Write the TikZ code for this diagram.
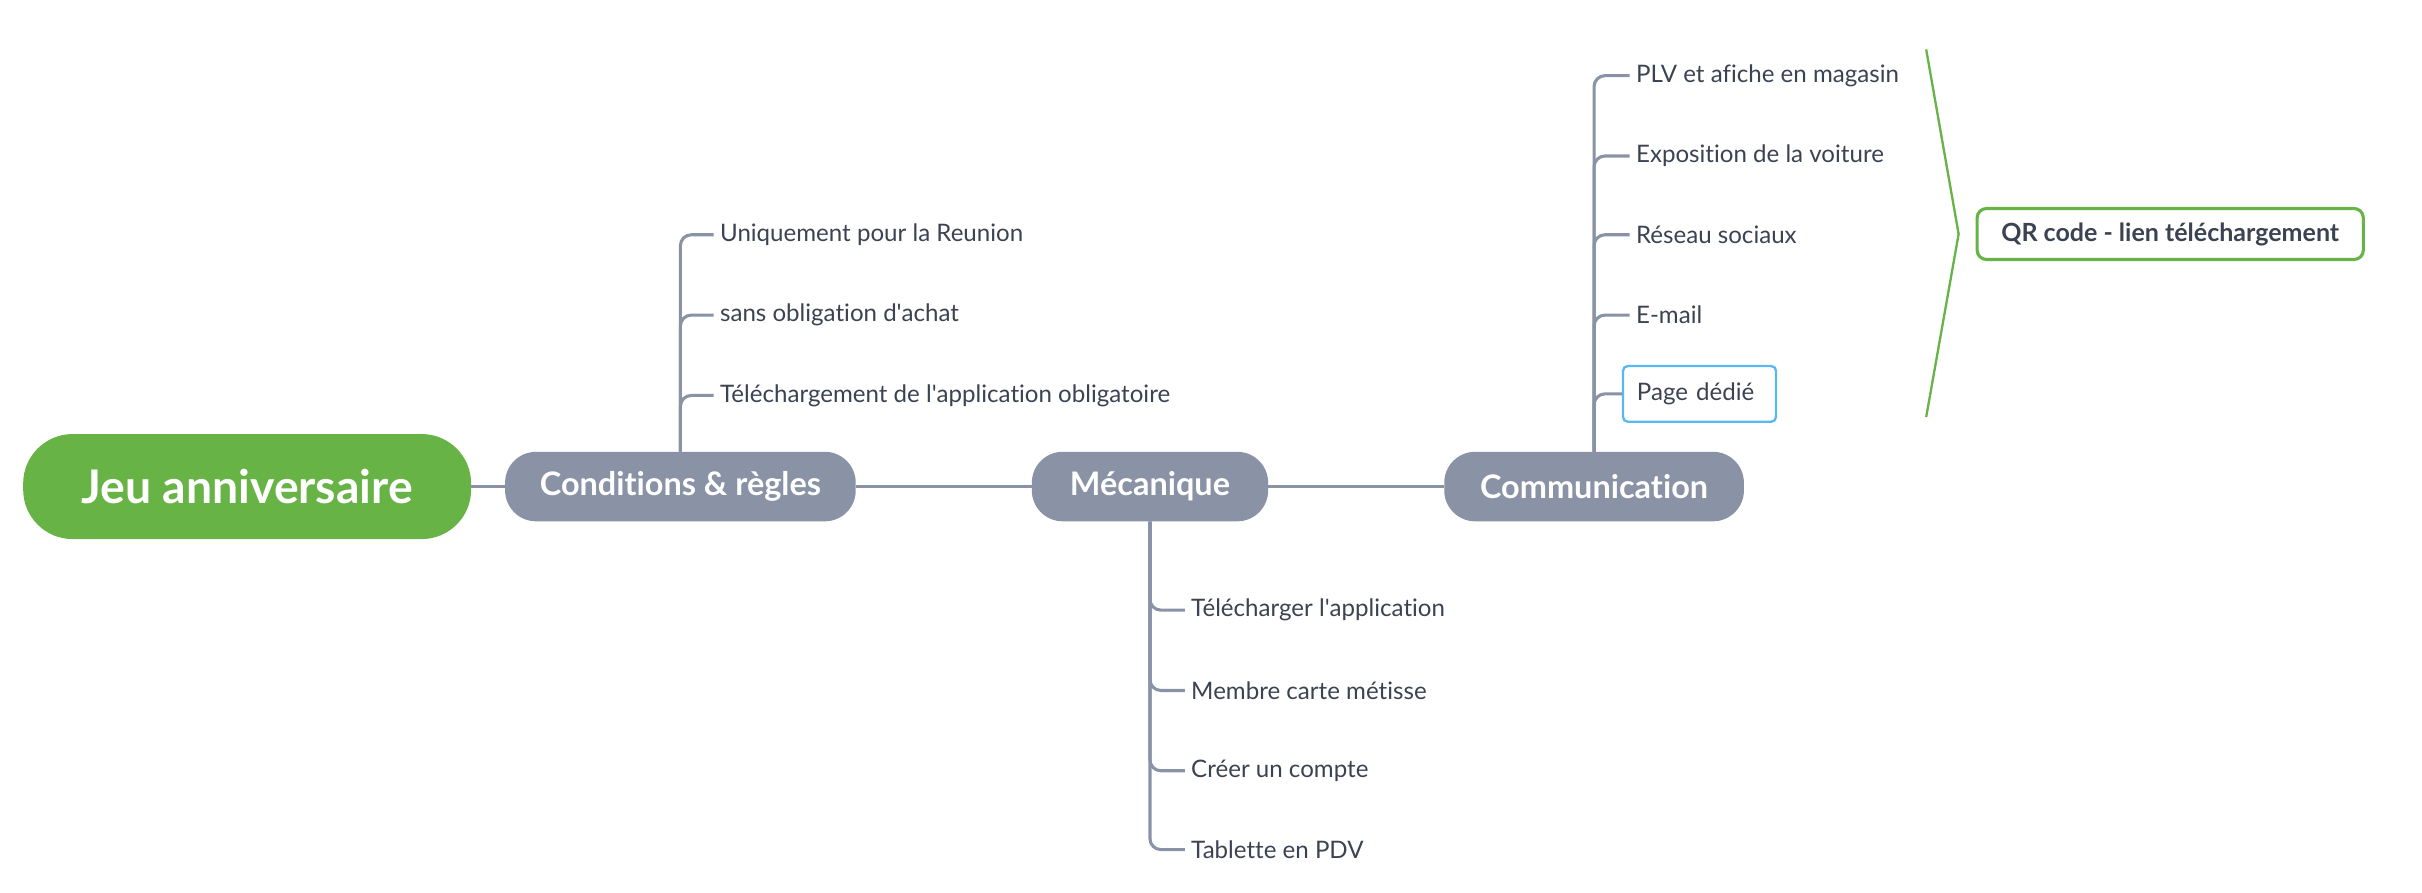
\documentclass[tikz,border=0pt]{standalone}
\usepackage{fontspec}
\setmainfont{Lato}[Ligatures={NoCommon}]
\definecolor{rootgreen}{HTML}{67B346}
\definecolor{topicgray}{HTML}{8A93A5}
\definecolor{leaftext}{HTML}{3B4252}
\definecolor{pageblue}{HTML}{5AB7F0}
\begin{document}
\begin{tikzpicture}[x=1pt,y=-1pt,
	topic/.style={fill=topicgray, text=white, font=\bfseries\fontsize{21}{24}\selectfont,
		rounded corners=20pt, minimum height=45pt, inner sep=0pt},
	leaf/.style={anchor=west, text=leaftext, font=\fontsize{15.6}{18}\selectfont, inner xsep=4pt},
	branch/.style={draw=topicgray, line width=2pt, rounded corners=7pt}]
	\useasboundingbox (0,0) rectangle (1568,577.5);

	% central topic and main topics
	\node[fill=rootgreen, text=white, font=\bfseries\fontsize{30}{34}\selectfont,
		rounded corners=32pt, minimum width=290pt, minimum height=68pt, inner sep=0pt] (root) at (160,315) {Jeu anniversaire};
	\node[topic, minimum width=227pt] (cond) at (440.5,315) {Conditions \& règles};
	\node[topic, minimum width=153pt] (meca) at (744.5,315) {Mécanique};
	\node[topic, minimum width=194pt] (comm) at (1032,315) {Communication};

	\draw[branch] (root) -- (cond);
	\draw[branch] (cond) -- (meca);
	\draw[branch] (meca) -- (comm);

	% Conditions & regles
	\node[leaf] (c1) at (462,152) {Uniquement pour la Reunion};
	\node[leaf] (c2) at (462,204) {sans obligation d\textquotesingle achat};
	\node[leaf] (c3) at (462,256) {Téléchargement de l\textquotesingle application obligatoire};
	\foreach \leafname in {c1,c2,c3}
		\draw[branch] (cond.north) |- (\leafname.west);

	% Mecanique
	\node[leaf] (m1) at (767,395) {Télécharger l\textquotesingle application};
	\node[leaf] (m2) at (767,447) {Membre carte métisse};
	\node[leaf] (m3) at (767,499) {Créer un compte};
	\node[leaf] (m4) at (767,550) {Tablette en PDV};
	\foreach \leafname in {m1,m2,m3,m4}
		\draw[branch] (meca.south) |- (\leafname.west);

	% Communication
	\node[leaf] (k1) at (1055,49) {PLV et afiche en magasin};
	\node[leaf] (k2) at (1055,101) {Exposition de la voiture};
	\node[leaf] (k3) at (1055,152) {Réseau sociaux};
	\node[leaf] (k4) at (1055,204) {E-mail};
	\node[leaf, draw=pageblue, line width=1.5pt, rounded corners=3pt, inner xsep=9pt,
		text width=81pt, minimum height=36pt] (k5) at (1050,255) {Page dédié};
	\foreach \leafname in {k1,k2,k3,k4,k5}
		\draw[branch] (comm.north) |- (\leafname.west);

	% summary
	\node[draw=rootgreen, line width=2pt, fill=white, text=leaftext, rounded corners=6pt,
		font=\bfseries\fontsize{16.2}{19}\selectfont, minimum width=250pt, minimum height=33pt,
		inner sep=0pt] (qr) at (1405,151.5) {QR code - lien téléchargement};
	\coordinate (brtop) at (1247,32);
	\coordinate (brtip) at (1268,151.5);
	\coordinate (brbot) at (1247,270);
	\draw[rootgreen, line width=1.5pt] (brtop) -- (brtip) -- (brbot);
\end{tikzpicture}
\end{document}
